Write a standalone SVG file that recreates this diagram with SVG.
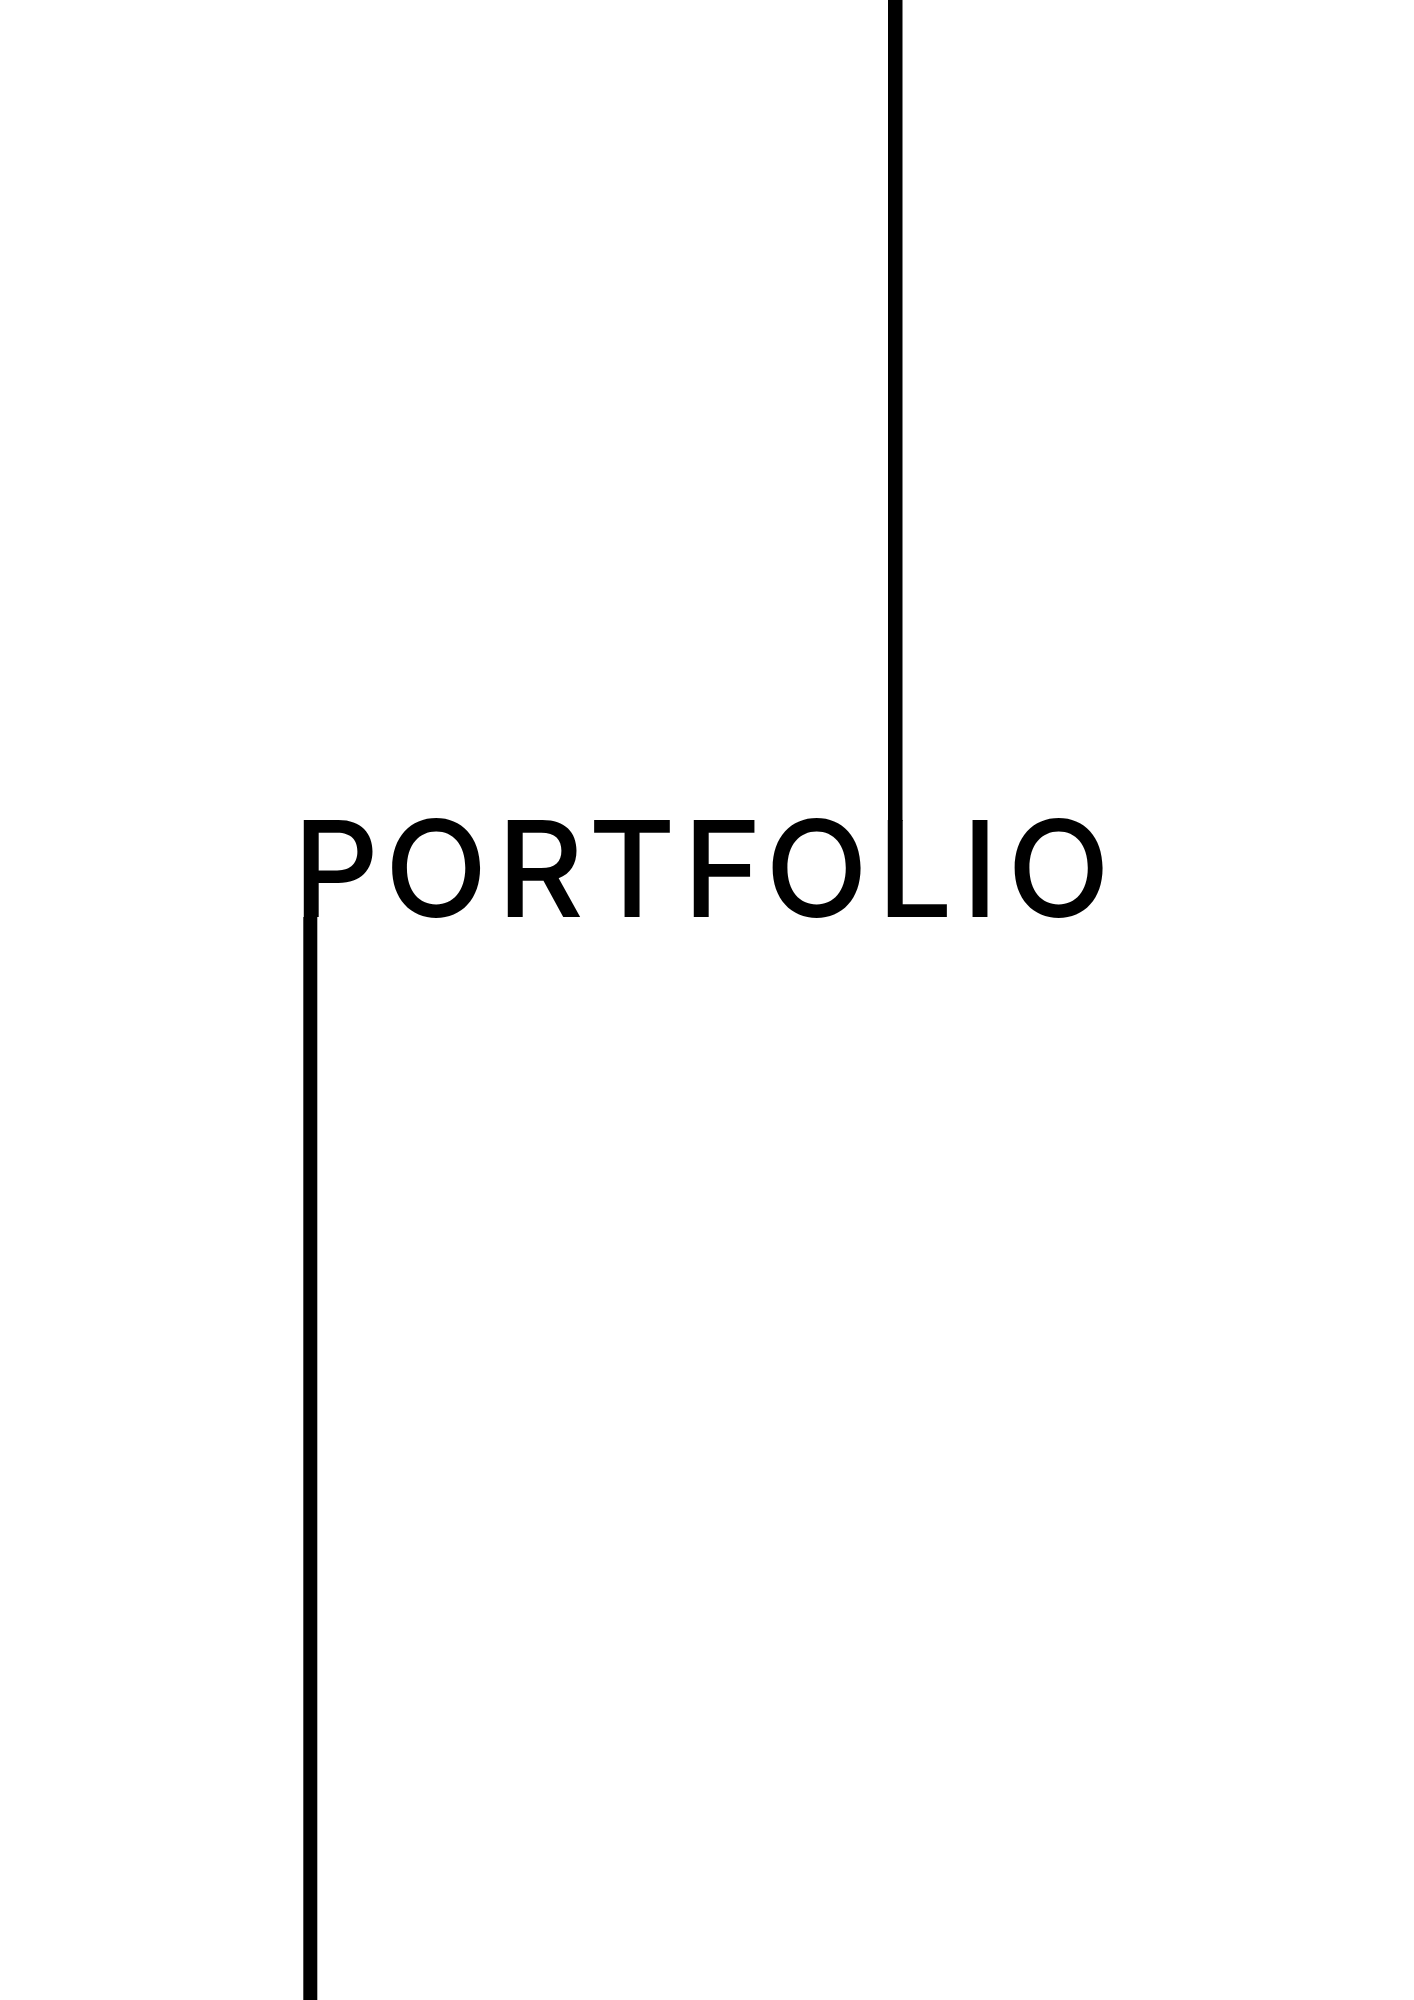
<svg xmlns="http://www.w3.org/2000/svg" width="1414" height="2000" viewBox="0 0 1414 2000">
<style>
.t{font-family:Inter,"Liberation Sans",sans-serif;font-size:134px;font-weight:500;fill:#000}
.m{text-anchor:middle}
</style>
<rect width="1414" height="2000" fill="#fff"/>
<g id="lines">
<rect x="888" y="0" width="14.5" height="821" fill="#000"/>
<rect x="303.3" y="917" width="14" height="1083" fill="#000"/>
</g>
<g id="title">
<text class="t" x="293" y="917">P</text>
<text class="t m" x="436" y="917">O</text>
<text class="t" x="497" y="917">R</text>
<text class="t m" x="632" y="917">T</text>
<text class="t" x="683" y="917">F</text>
<text class="t m" x="816.5" y="917">O</text>
<text class="t" x="877" y="917">L</text>
<text class="t m" x="980" y="917">I</text>
<text class="t m" x="1058.5" y="917">O</text>
</g>
</svg>
